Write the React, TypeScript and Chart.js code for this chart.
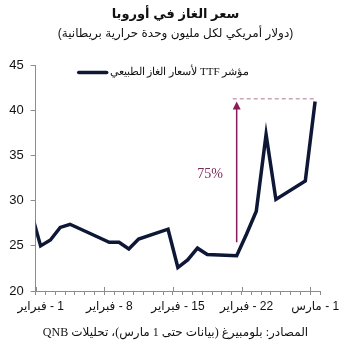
import React, { useEffect, useRef } from "react";
import { Chart, registerables } from "chart.js";

Chart.register(...registerables);

// ---- data ----
const titleText = "سعر الغاز في أوروبا";
const subtitleText = "(دولار أمريكي لكل مليون وحدة حرارية بريطانية)";
const sourceText = "المصادر: بلومبيرغ (بيانات حتى 1 مارس)، تحليلات QNB";
const seriesLabel = "مؤشر TTF لأسعار الغاز الطبيعي";

// trading days, counted from 1 February (day 0); -1 = 31 January
const dayIndex = [-1, 0, 1, 2, 3, 6, 7, 8, 9, 10, 13, 14, 15, 16, 17, 20, 21, 22, 23, 24, 27, 28];
const ttfPrice = [28.9, 25.0, 25.65, 27.05, 27.4, 25.9, 25.4, 25.4, 24.65, 25.75, 26.85, 22.6, 23.45, 24.75, 24.05, 23.9, 26.3, 28.85, 37.35, 30.15, 32.2, 41.0];

const xTickDays = [0, 7, 14, 21, 28];
const xTickLabels = ["1 - فبراير", "8 - فبراير", "15 - فبراير", "22 - فبراير", "1 - مارس"];
const yMin = 20;
const yMax = 45;
const yStep = 5;
const xDays = 29;

// annotation: rise since 21 February
const changeLabel = "75%";
const arrowDay = 20;
const arrowFrom = 25.4;
const arrowTo = 41.0;
const peakLevel = 41.3;
const peakLineFromDay = 19.6;
const peakLineToDay = 28;
const changeLabelDay = 17.3;
const changeLabelValue = 32.9;

const lineColor = "#0e1836";
const axisColor = "#8c8c8c";
const accent = "#8a1a5c";

const annotationPlugin = {
  id: "annotations",
  afterDatasetsDraw(chart: any) {
    const { ctx, chartArea } = chart;
    const xs = chart.scales.x;
    const ys = chart.scales.y;
    ctx.save();
    // major tick marks crossing the axis
    ctx.strokeStyle = axisColor;
    ctx.lineWidth = 1;
    xTickDays.forEach((d) => {
      const px = Math.round(xs.getPixelForValue(d)) + 0.5;
      ctx.beginPath();
      ctx.moveTo(px, chartArea.bottom - 4);
      ctx.lineTo(px, chartArea.bottom);
      ctx.stroke();
    });
    // dashed peak level
    ctx.strokeStyle = "#c9a3b6";
    ctx.lineWidth = 1.5;
    ctx.setLineDash([4, 3]);
    const py = ys.getPixelForValue(peakLevel);
    ctx.beginPath();
    ctx.moveTo(xs.getPixelForValue(peakLineFromDay + 0.5), py);
    ctx.lineTo(xs.getPixelForValue(peakLineToDay + 0.5), py);
    ctx.stroke();
    ctx.setLineDash([]);
    // arrow
    const ax = xs.getPixelForValue(arrowDay + 0.5);
    const ay0 = ys.getPixelForValue(arrowFrom);
    const ay1 = ys.getPixelForValue(arrowTo);
    ctx.strokeStyle = accent;
    ctx.fillStyle = accent;
    ctx.lineWidth = 1.5;
    ctx.beginPath();
    ctx.moveTo(ax, ay0);
    ctx.lineTo(ax, ay1 + 6);
    ctx.stroke();
    ctx.beginPath();
    ctx.moveTo(ax, ay1);
    ctx.lineTo(ax - 4, ay1 + 8);
    ctx.lineTo(ax + 4, ay1 + 8);
    ctx.closePath();
    ctx.fill();
    // label
    ctx.fillStyle = "#7b2a5c";
    ctx.font = '14px "Liberation Serif", "Times New Roman", serif';
    ctx.textAlign = "center";
    ctx.textBaseline = "middle";
    ctx.direction = "ltr";
    ctx.fillText(changeLabel, xs.getPixelForValue(changeLabelDay + 0.5), ys.getPixelForValue(changeLabelValue));
    // legend
    const ds = chart.data.datasets[0];
    const lx = chartArea.left + 43;
    const ly = chartArea.top + 7;
    ctx.strokeStyle = ds.borderColor;
    ctx.lineWidth = 3.5;
    ctx.lineCap = "round";
    ctx.beginPath();
    ctx.moveTo(lx, ly);
    ctx.lineTo(lx + 28, ly);
    ctx.stroke();
    ctx.fillStyle = "#111";
    ctx.font = '11px "Liberation Serif", "Times New Roman", serif';
    ctx.direction = "rtl";
    ctx.textAlign = "left";
    ctx.fillText(ds.label, lx + 31, ly);
    ctx.restore();
  },
};

export default function App() {
  const ref = useRef<HTMLCanvasElement | null>(null);
  useEffect(() => {
    if (!ref.current) return;
    const chart = new Chart(ref.current, {
      type: "line",
      data: {
        datasets: [
          {
            label: seriesLabel,
            data: dayIndex.map((d, i) => ({ x: d + 0.5, y: ttfPrice[i] })),
            borderColor: lineColor,
            backgroundColor: lineColor,
            borderWidth: 3.5,
            pointRadius: 0,
            tension: 0,
            fill: false,
          },
        ],
      },
      options: {
        animation: false,
        responsive: false,
        devicePixelRatio: 1,
        layout: { padding: { top: 65.5, right: 31, left: 0, bottom: 0 } },
        plugins: {
          legend: { display: false },
          tooltip: { enabled: false },
          title: { display: false },
        },
        scales: {
          x: {
            type: "linear",
            min: 0,
            max: xDays,
            afterFit: (s: any) => {
              s.height = 60;
            },
            afterBuildTicks: (s: any) => {
              const t = [];
              for (let i = 0; i <= xDays; i++) t.push({ value: i });
              s.ticks = t;
            },
            grid: {
              drawOnChartArea: false,
              drawTicks: true,
              tickLength: 4,
              color: axisColor,
            },
            border: { color: axisColor, width: 1 },
            ticks: {
              autoSkip: false,
              maxRotation: 0,
              minRotation: 0,
              padding: 4,
              labelOffset: 5,
              color: "#111",
              font: { family: '"Liberation Sans", "DejaVu Sans", sans-serif', size: 12 },
              callback: (v: any) => {
                const idx = xTickDays.indexOf(Number(v));
                return idx >= 0 ? xTickLabels[idx] : "";
              },
            },
          },
          y: {
            min: yMin,
            max: yMax,
            afterFit: (s: any) => {
              s.width = 35.7;
            },
            grid: {
              drawOnChartArea: false,
              drawTicks: true,
              tickLength: 5,
              color: axisColor,
            },
            border: { color: axisColor, width: 1 },
            ticks: {
              stepSize: yStep,
              padding: 7,
              color: "#111",
              font: { family: '"Liberation Sans", Arial, sans-serif', size: 13 },
            },
          },
        },
      },
      plugins: [annotationPlugin],
    });
    return () => chart.destroy();
  }, []);

  const base: React.CSSProperties = {
    position: "absolute",
    left: 0,
    width: 351,
    textAlign: "center",
    direction: "rtl",
    color: "#111",
    whiteSpace: "nowrap",
    lineHeight: 1,
  };

  return (
    <div style={{ position: "fixed", left: 0, top: 0, width: 351, height: 351, background: "#fff", overflow: "hidden" }}>
      <canvas ref={ref} width={351} height={351} dir="rtl" style={{ position: "absolute", left: 0, top: 0, width: 351, height: 351 }} />
      <div style={{ ...base, top: 7, fontSize: 13, fontWeight: "bold", fontFamily: '"Liberation Sans", "DejaVu Sans", sans-serif' }}>{titleText}</div>
      <div style={{ ...base, top: 27, fontSize: 12, fontFamily: '"Liberation Sans", "DejaVu Sans", sans-serif' }}>{subtitleText}</div>
      <div style={{ ...base, top: 326, fontSize: 12, fontFamily: '"Liberation Serif", "DejaVu Sans", serif' }}>{sourceText}</div>
    </div>
  );
}
